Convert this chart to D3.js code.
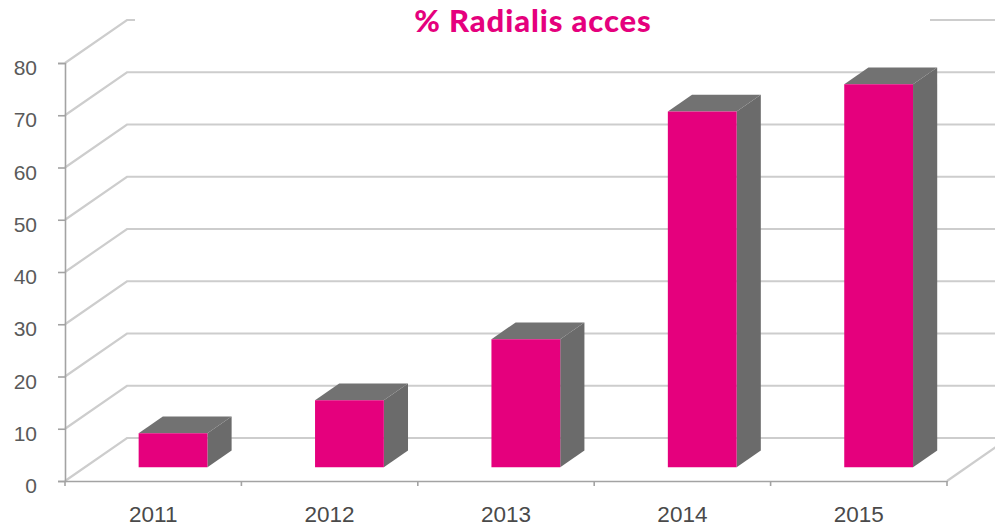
<!DOCTYPE html>
<html>
<head>
<meta charset="utf-8">
<script src="https://cdn.jsdelivr.net/npm/d3@7"></script>
<style>
  html, body { margin: 0; padding: 0; background: #ffffff; }
  svg { display: block; }
</style>
</head>
<body>
<svg id="chart" width="995" height="528"></svg>
<script>
// Share of procedures done through radial access, per year
const years = ["2011", "2012", "2013", "2014", "2015"];
const radialShare = [6.5, 12.8, 24.5, 68.1, 73.3];
const yTicks = [0, 10, 20, 30, 40, 50, 60, 70, 80];
const titleText = "% Radialis acces";

const W = 995, H = 528;
const svg = d3.select("#chart");

// Oblique projection: the front plane is mapped by the scales,
// depth z in [0,1] pushes points right and up.
const DX = 62, DY = -43;
const x = d3.scaleBand().domain(years).range([65, 947]);
const y = d3.scaleLinear().domain([0, 80]).range([481, 63]);
const proj = (px, v, z) => [px + DX * z, y(v) + DY * z];

const gridColor = "#cdcdcd";
const axisColor = "#a3a3a3";
const pink = "#e5007d";

// Side wall + back wall gridlines
const grid = svg.append("g");
yTicks.forEach(v => {
  const a = proj(65, v, 0), b = proj(65, v, 1);
  grid.append("path")
    .attr("d", `M${a[0]},${a[1]}L${b[0]},${b[1]}L${W + 20},${b[1]}`)
    .attr("fill", "none")
    .attr("stroke", gridColor)
    .attr("stroke-width", 2.2);
});

// Floor: right edge running back into depth
{
  const a = proj(947, 0, 0), b = proj(947, 0, 1);
  grid.append("line")
    .attr("x1", a[0]).attr("y1", a[1]).attr("x2", b[0]).attr("y2", b[1])
    .attr("stroke", gridColor).attr("stroke-width", 2.2);
}

// Band behind the title
svg.append("rect")
  .attr("x", 135).attr("y", 0).attr("width", 795).attr("height", 36)
  .attr("fill", "#ffffff");

// Value axis
const yAxis = d3.axisLeft(y).tickValues(yTicks).tickSize(7).tickPadding(0).tickFormat(d3.format("d"));
const yg = svg.append("g").attr("transform", "translate(65,0)").call(yAxis);
yg.select(".domain").attr("stroke", axisColor).attr("stroke-width", 1.6);
yg.selectAll(".tick line").attr("stroke", axisColor).attr("stroke-width", 1.6);
yg.selectAll(".tick text")
  .attr("x", -28)
  .attr("dy", "0.32em")
  .attr("y", 5)
  .attr("fill", "#5a5a5a")
  .attr("font-family", "'Liberation Sans', Arial, sans-serif")
  .attr("font-size", 21)
  .attr("text-anchor", "end");

// Category axis along the front edge of the floor
const xAxis = d3.axisBottom(x).tickSize(0).tickPadding(0);
const xg = svg.append("g").attr("transform", `translate(0,${y(0)})`).call(xAxis);
xg.select(".domain").attr("stroke", axisColor).attr("stroke-width", 1.6);
xg.selectAll(".tick text")
  .attr("y", 41)
  .attr("dy", 0)
  .attr("fill", "#4a4a4a")
  .attr("font-family", "'Liberation Sans', Arial, sans-serif")
  .attr("font-size", 22.5);
// Small marks between categories
const bounds = years.map(d => x(d)).concat([x.range()[1]]);
xg.selectAll(".sep").data(bounds).join("line")
  .attr("class", "sep")
  .attr("x1", d => d).attr("x2", d => d)
  .attr("y1", 0).attr("y2", 5)
  .attr("stroke", axisColor).attr("stroke-width", 1.6);

// 3D columns
const z0 = 0.32, z1 = 0.71;
const barW = x.bandwidth() * 0.39;
const bars = svg.append("g");
years.forEach((yr, i) => {
  const v = radialShare[i];
  const cx = x(yr) + x.bandwidth() / 2;
  const xl = cx - barW / 2, xr = cx + barW / 2;
  const poly = pts => "M" + pts.map(p => p.join(",")).join("L") + "Z";
  // right side
  bars.append("path")
    .attr("d", poly([proj(xr, 0, z0), proj(xr, v, z0), proj(xr, v, z1), proj(xr, 0, z1)]))
    .attr("fill", "#6b6b6b");
  // top
  bars.append("path")
    .attr("d", poly([proj(xl, v, z0), proj(xr, v, z0), proj(xr, v, z1), proj(xl, v, z1)]))
    .attr("fill", "#727272");
  // front
  bars.append("path")
    .attr("d", poly([proj(xl, 0, z0), proj(xr, 0, z0), proj(xr, v, z0), proj(xl, v, z0)]))
    .attr("fill", pink);
});

// Title
svg.append("text")
  .attr("x", 533)
  .attr("y", 31.5)
  .attr("text-anchor", "middle")
  .attr("fill", pink)
  .attr("font-family", "Lato, 'Open Sans', sans-serif")
  .attr("font-weight", 900)
  .attr("font-size", 31)
  .attr("letter-spacing", 0.9)
  .text(titleText);
</script>
</body>
</html>
